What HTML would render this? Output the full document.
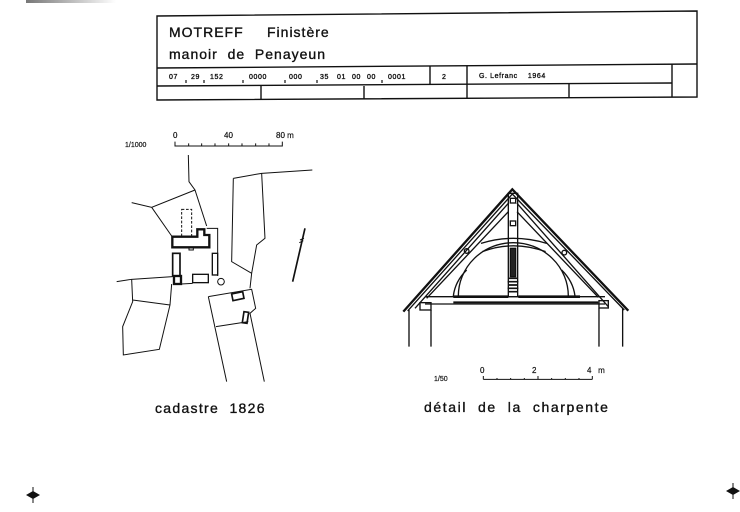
<!DOCTYPE html>
<html><head><meta charset="utf-8"><style>
html,body{margin:0;padding:0;background:#fff;}
svg{display:block;}
text{font-family:"Liberation Sans",sans-serif;fill:#111;stroke:#111;stroke-width:0.35;}
</style></head><body>
<svg width="740" height="512" viewBox="0 0 740 512" xmlns="http://www.w3.org/2000/svg">
<rect width="740" height="512" fill="#fff"/>
<defs><linearGradient id="sm" x1="0" x2="1"><stop offset="0" stop-color="#777"/><stop offset="1" stop-color="#fff"/></linearGradient></defs>
<rect x="26" y="0" width="90" height="3" fill="url(#sm)"/>
<g fill="none" stroke="#111" stroke-width="1.4">
<path d="M157 16 L697 11 L697 97 L157 100 Z"/>
<path d="M157 68 L697 64"/>
<path d="M157 86 L672 83"/>
<path d="M672 64 L672 97"/>
<path d="M430 66 L430 85 M467 66 L467 98 M261 86 L261 100 M364 86 L364 99 M569 84 L569 98"/>
</g>
<g stroke="#111" stroke-width="1.2">
<path d="M186 80v3 M204 80v3 M243 80v3 M285 80v3 M317 80v3 M382 80v3"/>
</g>
<text x="169" y="37" font-size="14" letter-spacing="1">MOTREFF</text>
<text x="267" y="37" font-size="14" letter-spacing="1">Finistère</text>
<text x="169" y="59" font-size="14" letter-spacing="1">manoir&#160;&#160;de&#160;&#160;Penayeun</text>
<g font-size="7" letter-spacing="0.6" style="stroke-width:0.2">
<text x="169" y="79">07</text><text x="191" y="79">29</text><text x="210" y="79">152</text>
<text x="249" y="79">0000</text><text x="289" y="79">000</text><text x="320" y="79">35</text>
<text x="337" y="79">01</text><text x="352" y="79">00</text><text x="367" y="79">00</text>
<text x="388" y="79">0001</text>
<text x="442" y="79">2</text>
<text x="479" y="78">G. Lefranc&#160;&#160;&#160;&#160;1964</text>
</g>

<!-- cadastre -->
<text x="125" y="147" font-size="7" style="stroke-width:0.2">1/1000</text>
<text x="173" y="138" font-size="8" style="stroke-width:0.2">0</text>
<text x="224" y="138" font-size="8" style="stroke-width:0.2">40</text>
<text x="276" y="138" font-size="8" style="stroke-width:0.2">80 m</text>
<g transform="translate(110,120) scale(0.3333)" fill="none" stroke="#111" stroke-width="3">
<path d="M195 65 V78 H517 V65 M236 70v8 M275 70v8 M315 70v8 M356 70v8 M396 70v8 M437 70v8 M477 70v8" stroke-width="3"/>
<path d="M235 105 L237 185 L255 210 L290 318"/>
<path d="M65 248 L125 262 L255 210 M125 262 L185 348"/>
<path d="M290 325 H323 V468"/>
<path d="M187 350 H262 V328 H283 V345 H298 V382 H187 Z" stroke-width="7"/>
<path d="M284 328 V345 H298" stroke-width="3"/>
<rect x="215" y="268" width="30" height="82" stroke-dasharray="8 5"/>
<rect x="237" y="382" width="13" height="8"/>
<rect x="188" y="400" width="22" height="68" stroke-width="5"/>
<rect x="307" y="400" width="16" height="65" stroke-width="4"/>
<rect x="192" y="468" width="21" height="24" stroke-width="7"/>
<rect x="248" y="463" width="47" height="25" stroke-width="4"/>
<circle cx="333" cy="485" r="10"/>
<path d="M213 492 L248 490"/>
<path d="M20 485 L65 478 L188 470 M65 478 L68 545 L38 620 L40 705 L148 688 L180 555 L185 492 M68 540 L180 555"/>
<path d="M370 175 L455 160 L607 150 M370 175 L365 425 L425 460 M455 160 L465 355 L440 375 L425 460 L420 505"/>
<path d="M295 530 L425 508 L437 565 L420 580 L463 785 M295 530 L350 785 M318 620 L415 605"/>
<path d="M365 522 L398 515 L402 535 L369 542 Z" stroke-width="5"/>
<path d="M402 575 L416 577 L411 610 L397 608 Z" stroke-width="5"/>
<path d="M548 485 L585 325" stroke-width="5"/>
<path d="M570 360 L582 355 M568 368 L580 362" stroke-width="3"/>
</g>
<text x="155" y="413" font-size="14" letter-spacing="1.3">cadastre&#160;&#160;1826</text>

<!-- charpente -->
<g transform="translate(395,180) scale(0.3333)" fill="none" stroke="#111" stroke-width="4">
<path d="M25 395 L352 28 L700 392" stroke-width="7"/>
<path d="M38 393 L352 42 L688 390"/>
<path d="M60 385 L340 70 M640 380 L366 70"/>
<path d="M95 355 L340 95 M610 352 L366 95"/>
<path d="M42 390 V500 M108 390 V500 M612 385 V500 M683 385 V500"/>
<rect x="75" y="368" width="33" height="22"/>
<rect x="612" y="362" width="28" height="22"/>
<path d="M90 350 H630 M90 372 H630"/>
<path d="M175 350 H340 M370 350 H555" stroke-width="8"/>
<path d="M175 367 H610" stroke-width="6"/>
<rect x="340" y="40" width="28" height="310"/>
<rect x="346" y="55" width="16" height="14"/>
<rect x="346" y="123" width="16" height="14"/>
<rect x="346" y="205" width="16" height="85" fill="#222"/>
<path d="M340 295 H368 M338 305 H370 M340 315 H368 M338 325 H370 M340 335 H368" stroke-width="5"/>
<path d="M190 348 A165 160 0 0 1 520 348"/>
<path d="M175 348 A180 145 0 0 1 215 270 M540 348 A180 145 0 0 0 500 270"/>
<path d="M258 190 Q354 160 455 190 M262 215 Q354 180 452 215"/>
<circle cx="215" cy="213" r="7"/>
<circle cx="508" cy="218" r="7"/>
<path d="M265 598 H592 M265 588v10 M306 594v4 M347 594v4 M388 594v4 M429 588v10 M470 594v4 M511 594v4 M552 594v4 M592 588v10" stroke-width="3"/>
</g>
<text x="434" y="381" font-size="7" style="stroke-width:0.2">1/50</text>
<text x="480" y="373" font-size="8" style="stroke-width:0.2">0</text>
<text x="532" y="373" font-size="8" style="stroke-width:0.2">2</text>
<text x="587" y="373" font-size="8" style="stroke-width:0.2">4&#160;&#160;&#160;m</text>
<text x="424" y="412" font-size="14" letter-spacing="1.6">détail&#160;&#160;de&#160;&#160;la&#160;&#160;charpente</text>

<g fill="#111">
<path d="M26 495 L33 491 L40 495 L33 499 Z"/><path d="M33 487 V503" stroke="#111" stroke-width="1"/>
<path d="M726 491 L733 487 L740 491 L733 495 Z"/><path d="M733 483 V499" stroke="#111" stroke-width="1"/>
</g>
</svg>
</body></html>
